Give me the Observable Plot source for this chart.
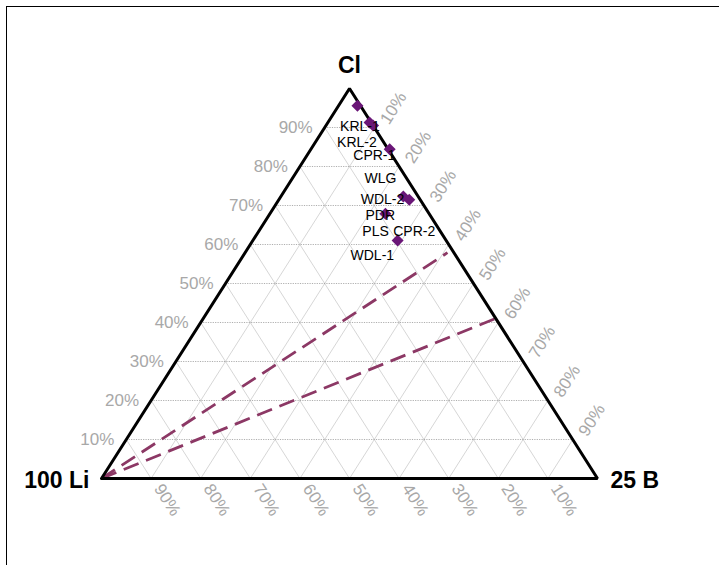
<!DOCTYPE html>
<html><head><meta charset="utf-8">
<script src="https://cdn.jsdelivr.net/npm/d3@7"></script>
<script src="https://cdn.jsdelivr.net/npm/@observablehq/plot@0.6"></script>
<style>
body{margin:0;background:#fff;font-family:"Liberation Sans",Arial,sans-serif;}
#wrap{position:relative;width:719px;height:565px;overflow:hidden;}
#frame{position:absolute;left:6px;top:6px;right:-5px;bottom:-5px;border-left:1.5px solid #000;border-top:1.5px solid #000;pointer-events:none}
#wrap svg{position:absolute;left:0;top:0;}
</style></head><body><div id="wrap"><div id="frame"></div></div>
<script>
// ---- data ----
const tickPercents = [10, 20, 30, 40, 50, 60, 70, 80, 90];
const vertexNames = ["100 Li", "25 B", "Cl"];
const vertexCl = [0, 0, 1];
const vertexB = [0, 1, 0];
// sample compositions (fractions of Cl and B; Li = remainder)
const sampleCl = [0.956, 0.913, 0.905, 0.844, 0.723, 0.715, 0.679, 0.610];
const sampleB  = [0.038, 0.084, 0.095, 0.159, 0.247, 0.263, 0.233, 0.292];
// sample labels anchored at ternary compositions
const labelNames = ["KRL-1", "KRL-2", "CPR-1", "WLG", "WDL-2", "PDR", "PLS", "CPR-2", "WDL-1"];
const labelCl = [0.902, 0.862, 0.828, 0.769, 0.715, 0.674, 0.633, 0.633, 0.572];
const labelB  = [0.070, 0.084, 0.136, 0.178, 0.209, 0.225, 0.236, 0.314, 0.260];
// mixing lines from the Li apex
const mixStartCl = [0, 0];
const mixStartB  = [0, 0];
const mixEndCl = [0.579, 0.410];
const mixEndB  = [0.408, 0.589];

// ---- ternary projection: x = B + Cl/2, y = Cl ----
const tx = (b, c) => b + c / 2;

const triangle = [0, 1, 2, 0].map(i => ({x: tx(vertexB[i], vertexCl[i]), y: vertexCl[i]}));

const grid = [];
const clGrid = [];
for (const p of tickPercents) {
  const f = p / 100;
  clGrid.push({x1: tx(0, f), y1: f, x2: tx(1 - f, f), y2: f});
  grid.push({x1: tx(f, 0), y1: 0, x2: tx(f, 1 - f), y2: 1 - f});       // B = const
  grid.push({x1: tx(1 - f, 0), y1: 0, x2: tx(0, 1 - f), y2: 1 - f});   // Li = const
}
const leftTicks = tickPercents.map(p => ({x: tx(0, p / 100), y: p / 100, t: p + "%"}));
const bottomTicks = tickPercents.map(p => ({x: tx(1 - p / 100, 0), y: 0, t: p + "%"}));
const rightTicks = tickPercents.map(p => ({x: tx(p / 100, 1 - p / 100), y: 1 - p / 100, t: p + "%"}));

const samples = sampleCl.map((c, i) => ({x: tx(sampleB[i], c), y: c}));
const labels = labelNames.map((n, i) => ({x: tx(labelB[i], labelCl[i]), y: labelCl[i], t: n}));
const mix = mixEndCl.map((c, i) => ({
  x1: tx(mixStartB[i], mixStartCl[i]), y1: mixStartCl[i],
  x2: tx(mixEndB[i], c), y2: c
}));
const verts = vertexNames.map((n, i) => ({x: tx(vertexB[i], vertexCl[i]), y: vertexCl[i], t: n}));

const font = '"Liberation Sans", Arial, sans-serif';
const tickColor = "#a8a8a8";

const chart = Plot.plot({
  width: 719,
  height: 565,
  marginLeft: 101,
  marginRight: 122,
  marginTop: 88,
  marginBottom: 87,
  x: {domain: [0, 1], axis: null},
  y: {domain: [0, 1], axis: null},
  style: {fontFamily: font, background: "transparent"},
  marks: [
    Plot.link(grid, {x1: "x1", y1: "y1", x2: "x2", y2: "y2", stroke: "#c4c4c4", strokeWidth: 0.7}),
    Plot.link(clGrid, {x1: "x1", y1: "y1", x2: "x2", y2: "y2", stroke: "#9a9a9a", strokeWidth: 0.8, strokeDasharray: "1.2,1.2"}),
    Plot.link(mix, {x1: "x1", y1: "y1", x2: "x2", y2: "y2", stroke: "#8c3865", strokeWidth: 2.8, strokeDasharray: "16,8"}),
    Plot.line(triangle, {x: "x", y: "y", stroke: "#000", strokeWidth: 3, strokeLinejoin: "miter"}),
    Plot.text(leftTicks, {x: "x", y: "y", text: "t", textAnchor: "end", dx: -12, fontSize: 17, fill: tickColor, fontFamily: font}),
    Plot.text(bottomTicks, {x: "x", y: "y", text: "t", textAnchor: "start", rotate: 57.5, dx: 7, dy: 7, fontSize: 17, fill: tickColor, fontFamily: font}),
    Plot.text(rightTicks, {x: "x", y: "y", text: "t", textAnchor: "start", rotate: -57.5, dx: 10, dy: -5, fontSize: 17, fill: tickColor, fontFamily: font}),
    Plot.dot(samples, {x: "x", y: "y", symbol: "diamond2", r: 5.4, fill: "#6a1677", stroke: "none"}),
    Plot.text(labels, {x: "x", y: "y", text: "t", fontSize: 14, fill: "#000", fontFamily: font}),
    Plot.text(verts.slice(0, 1), {x: "x", y: "y", text: "t", textAnchor: "end", dx: -12, dy: 2, fontSize: 23, fontWeight: "bold", fill: "#000", fontFamily: font}),
    Plot.text(verts.slice(1, 2), {x: "x", y: "y", text: "t", textAnchor: "start", dx: 13, dy: 2, fontSize: 23, fontWeight: "bold", fill: "#000", fontFamily: font}),
    Plot.text(verts.slice(2, 3), {x: "x", y: "y", text: "t", dy: -23, fontSize: 23, fontWeight: "bold", fill: "#000", fontFamily: font})
  ]
});
document.getElementById("wrap").appendChild(chart);
</script>
</body></html>
